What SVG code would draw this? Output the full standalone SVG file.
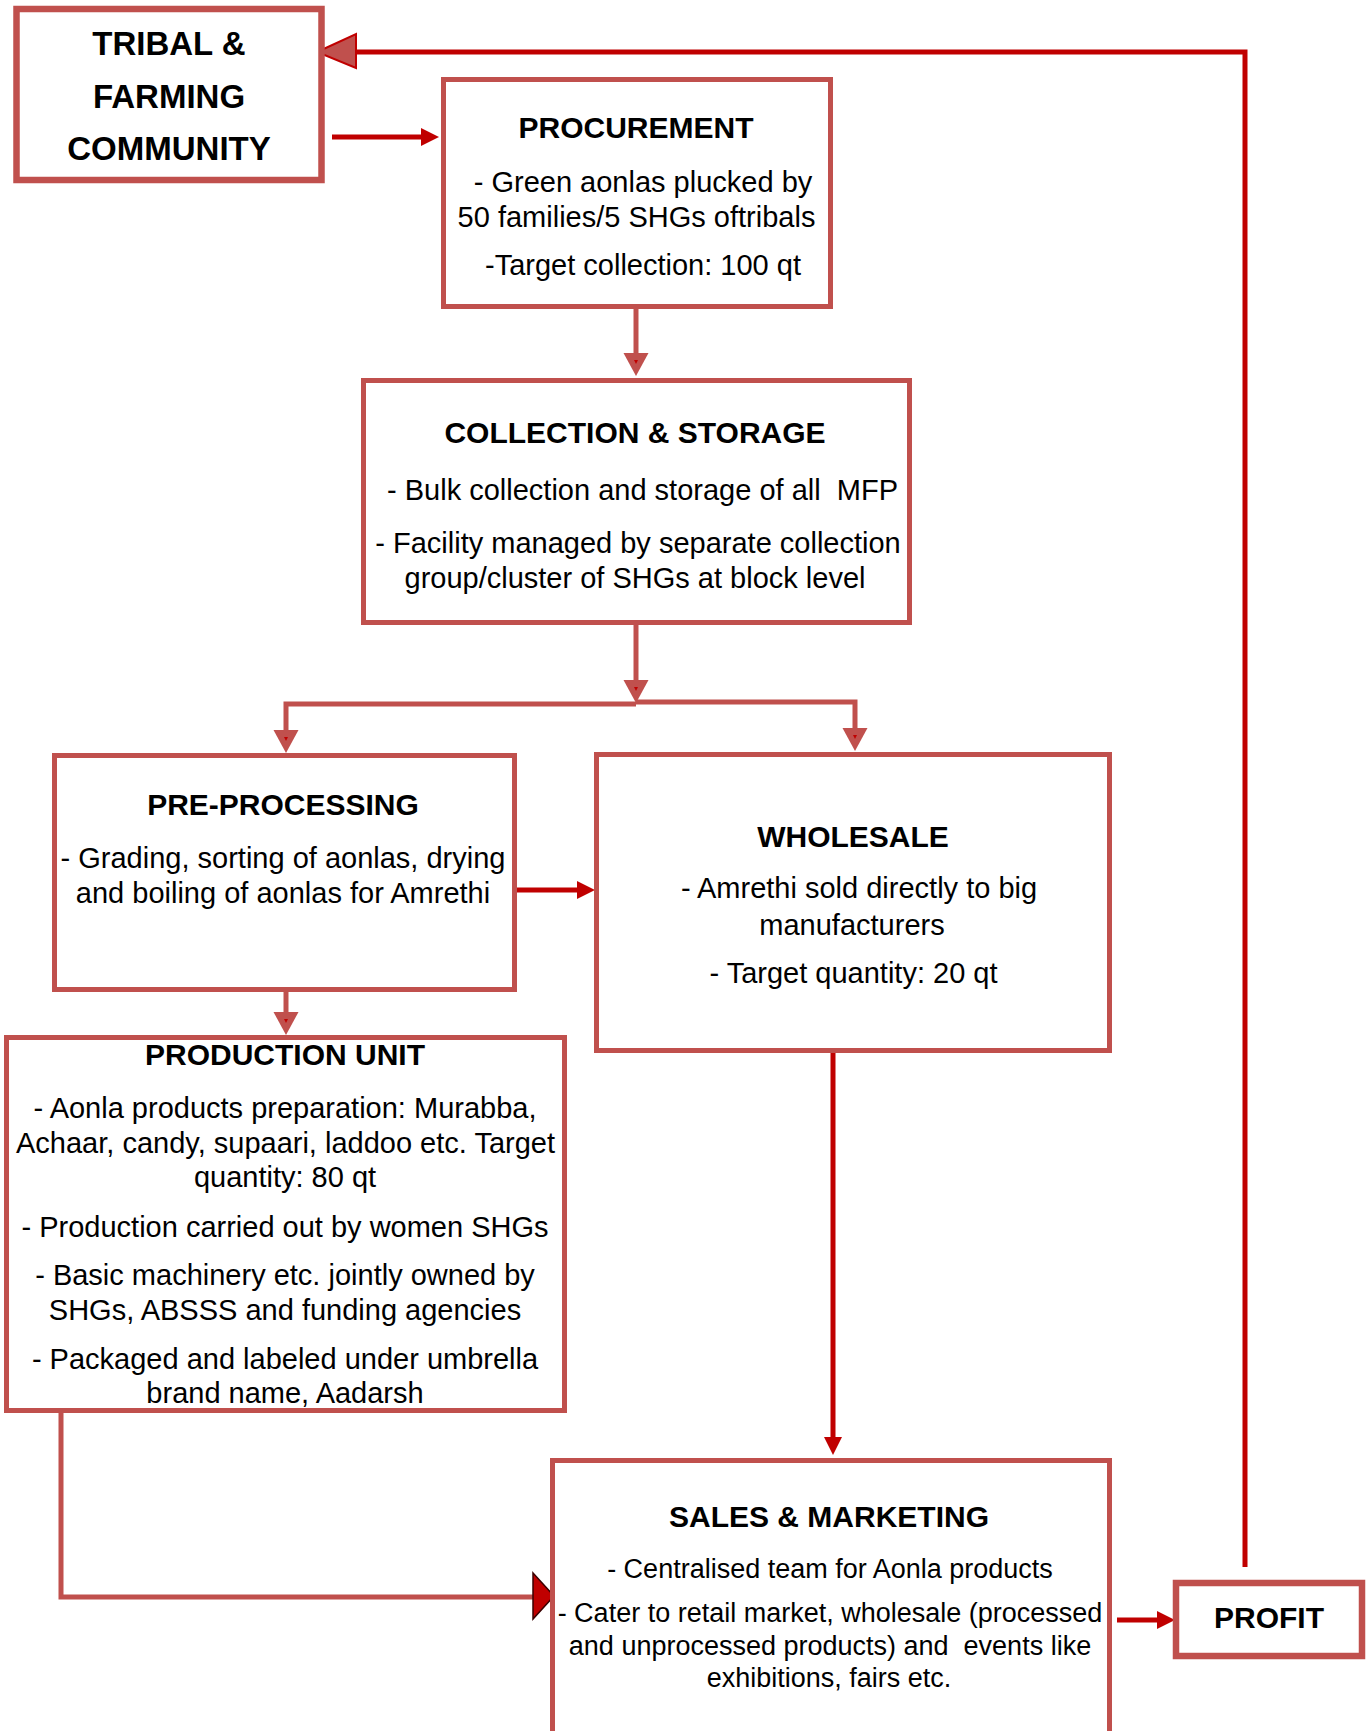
<svg xmlns="http://www.w3.org/2000/svg" width="1366" height="1731" viewBox="0 0 1366 1731">
  <style>
    .box { fill: #FFFFFF; stroke: #C0504D; stroke-width: 5; }
    .boxw { fill: #FFFFFF; stroke: #C0504D; stroke-width: 6.5; }
    .ttl { font-family: "Liberation Sans", Arial, sans-serif; font-weight: bold; font-size: 30px; text-anchor: middle; fill: #000000; }
    .big { font-family: "Liberation Sans", Arial, sans-serif; font-weight: bold; font-size: 33px; text-anchor: middle; fill: #000000; }
    .txt { font-family: "Liberation Sans", Arial, sans-serif; font-size: 29px; text-anchor: middle; fill: #000000; white-space: pre; }
    .sm { font-family: "Liberation Sans", Arial, sans-serif; font-size: 27px; text-anchor: middle; fill: #000000; white-space: pre; }
    .red { fill: none; stroke: #C00000; stroke-width: 5; }
    .pale { fill: none; stroke: #C0504D; stroke-width: 5; }
  </style>
  <defs>
    <!-- dark red arrowhead for the solid red flows -->
    <marker id="headRed" markerUnits="userSpaceOnUse" markerWidth="18" markerHeight="18" refX="0" refY="9" orient="auto" overflow="visible">
      <path d="M0,0 L18,9 L0,18 z" fill="#C00000"/>
    </marker>
    <!-- box-coloured arrowhead with a small dark tick inside -->
    <marker id="headBox" markerUnits="userSpaceOnUse" markerWidth="23" markerHeight="25" refX="0" refY="12.5" orient="auto" overflow="visible">
      <path d="M0,0 L23,12.5 L0,25 z" fill="#C0504D"/>
      <path d="M7,10.5 L11,12.5 L7,14.5 z" fill="#C00000"/>
    </marker>
  </defs>

  <rect width="1366" height="1731" fill="#FFFFFF"/>

  <!-- connectors -->
  <g id="connectors">
    <path class="red" d="M332,137 H421" marker-end="url(#headRed)"/>
    <path class="pale" d="M636,309 V353" marker-end="url(#headBox)"/>
    <path class="pale" d="M636,625 V680" marker-end="url(#headBox)"/>
    <path class="pale" d="M636,704 H286 V730" marker-end="url(#headBox)"/>
    <path class="pale" d="M636,702 H855 V728" marker-end="url(#headBox)"/>
    <path class="red" d="M517,890 H577" marker-end="url(#headRed)"/>
    <path class="pale" d="M286,992 V1012" marker-end="url(#headBox)"/>
    <path class="red" d="M833,1053 V1437" marker-end="url(#headRed)"/>
    <path class="pale" d="M61,1413 V1597 H534"/>
    <polygon points="533,1573 554,1596 533,1619" fill="#C00000" stroke="#3A0000" stroke-width="1.5"/>
    <path class="red" d="M1117,1620 H1157" marker-end="url(#headRed)"/>
    <path class="red" d="M1245,1567 V52 H356"/>
    <polygon points="317,52 356,34 356,68" fill="#C0504D" stroke="#C00000" stroke-width="2"/>
  </g>

  <g id="tribal">
    <rect class="boxw" x="16.5" y="9" width="305" height="171"/>
    <text class="big" x="169" y="55">TRIBAL &amp;</text>
    <text class="big" x="169" y="108">FARMING</text>
    <text class="big" x="169" y="160">COMMUNITY</text>
  </g>

  <g id="procurement">
    <rect class="box" x="443.5" y="79.5" width="387" height="227"/>
    <text class="ttl" x="636" y="138">PROCUREMENT</text>
    <text class="txt" x="643" y="192">- Green aonlas plucked by</text>
    <text class="txt" x="636.5" y="227">50 families/5 SHGs oftribals</text>
    <text class="txt" x="643" y="275">-Target collection: 100 qt</text>
  </g>

  <g id="collection">
    <rect class="box" x="363.5" y="380.5" width="546" height="242"/>
    <text class="ttl" x="635" y="443">COLLECTION &amp; STORAGE</text>
    <text class="txt" x="642.5" y="500">- Bulk collection and storage of all  MFP</text>
    <text class="txt" x="638" y="553">- Facility managed by separate collection</text>
    <text class="txt" x="635" y="588">group/cluster of SHGs at block level</text>
  </g>

  <g id="preprocessing">
    <rect class="box" x="54.5" y="755.5" width="460" height="234"/>
    <text class="ttl" x="283" y="815">PRE-PROCESSING</text>
    <text class="txt" x="283" y="868">- Grading, sorting of aonlas, drying</text>
    <text class="txt" x="283" y="903">and boiling of aonlas for Amrethi</text>
  </g>

  <g id="wholesale">
    <rect class="box" x="596.5" y="754.5" width="513" height="296"/>
    <text class="ttl" x="853" y="847">WHOLESALE</text>
    <text class="txt" x="859" y="898">- Amrethi sold directly to big</text>
    <text class="txt" x="852" y="935">manufacturers</text>
    <text class="txt" x="853.5" y="983">- Target quantity: 20 qt</text>
  </g>

  <g id="production">
    <rect class="box" x="6.5" y="1037.5" width="558" height="373"/>
    <text class="ttl" x="285" y="1065">PRODUCTION UNIT</text>
    <text class="txt" x="285" y="1118">- Aonla products preparation: Murabba,</text>
    <text class="txt" x="285.5" y="1153">Achaar, candy, supaari, laddoo etc. Target</text>
    <text class="txt" x="285" y="1187">quantity: 80 qt</text>
    <text class="txt" x="285" y="1237">- Production carried out by women SHGs</text>
    <text class="txt" x="285" y="1285">- Basic machinery etc. jointly owned by</text>
    <text class="txt" x="285" y="1320">SHGs, ABSSS and funding agencies</text>
    <text class="txt" x="285" y="1369">- Packaged and labeled under umbrella</text>
    <text class="txt" x="285" y="1403">brand name, Aadarsh</text>
  </g>

  <g id="sales">
    <rect class="box" x="552.5" y="1460.5" width="557" height="300"/>
    <text class="ttl" x="829" y="1527">SALES &amp; MARKETING</text>
    <text class="sm" x="830" y="1578">- Centralised team for Aonla products</text>
    <text class="sm" x="830" y="1622">- Cater to retail market, wholesale (processed</text>
    <text class="sm" x="830" y="1655">and unprocessed products) and  events like</text>
    <text class="sm" x="829" y="1687">exhibitions, fairs etc.</text>
  </g>

  <g id="profit">
    <rect class="boxw" x="1176" y="1583" width="186" height="73"/>
    <text class="ttl" x="1269" y="1628">PROFIT</text>
  </g>
</svg>
